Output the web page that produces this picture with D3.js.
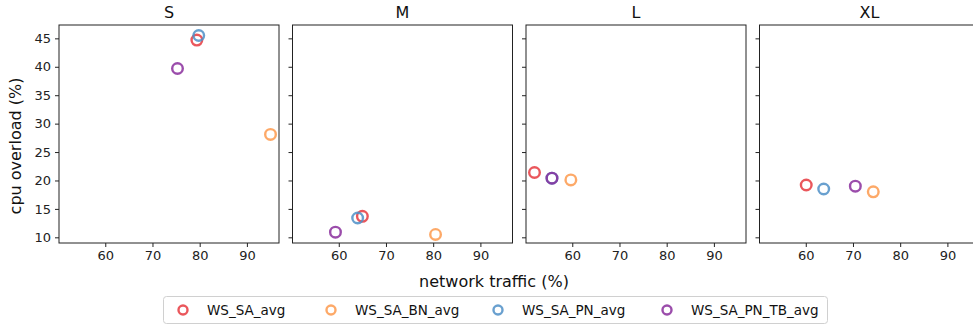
<!DOCTYPE html>
<html lang="en">
<head>
<meta charset="UTF-8">
<title>cpu overload vs network traffic</title>
<script src="https://d3js.org/d3.v7.min.js"></script>
<style>
    body { margin: 0; background: #fff; font-family: "DejaVu Sans", sans-serif; }
    .tick text { font-size: 13px; fill: #222; font-family: "DejaVu Sans", sans-serif; }
    .tick line { stroke: #222; }
    .domain { display: none; }
    .frame { fill: none; stroke: #222; stroke-width: 1; }
    .title { font-size: 16px; fill: #111; }
    .axis-label { font-size: 16px; fill: #111; }
    .legend text { font-size: 13.5px; fill: #111; }
</style>
</head>
<body>
<svg id="chart" width="973" height="330"></svg>
<script>
    // data
    const panels = ["S", "M", "L", "XL"];
    const series = ["WS_SA_avg", "WS_SA_BN_avg", "WS_SA_PN_avg", "WS_SA_PN_TB_avg"];
    const colors = ["#e6393f", "#fd9a4e", "#4f8fc7", "#8a2e9c"];
    // network traffic per panel, one array per series (order of panels)
    const trafficSA     = [79.4, 65.0, 52.0, 60.1];
    const trafficSABN   = [95.0, 80.5, 59.7, 74.3];
    const trafficSAPN   = [79.8, 64.0, 55.7, 63.8];
    const trafficSAPNTB = [75.3, 59.3, 55.7, 70.5];
    // cpu overload per panel
    const cpuSA     = [44.7, 13.7, 21.4, 19.2];
    const cpuSABN   = [28.1, 10.5, 20.1, 18.0];
    const cpuSAPN   = [45.5, 13.4, 20.4, 18.5];
    const cpuSAPNTB = [39.7, 10.9, 20.4, 19.0];
    const xTicks = [60, 70, 80, 90];
    const yTicks = [10, 15, 20, 25, 30, 35, 40, 45];

    const traffic = [trafficSA, trafficSABN, trafficSAPN, trafficSAPNTB];
    const cpu = [cpuSA, cpuSABN, cpuSAPN, cpuSAPNTB];

    const svg = d3.select("#chart");

    const panelW = 220;
    const panelGap = 13.5;
    const left0 = 59;
    const plotTop = 25;
    const plotBottom = 243;

    const x = d3.scaleLinear().domain([50.2, 96.8]).range([0, panelW]);
    const y = d3.scaleLinear().domain([9.0, 47.35]).range([plotBottom, plotTop]);

    panels.forEach((name, p) => {
        const left = left0 + p * (panelW + panelGap);
        const g = svg.append("g").attr("transform", `translate(${left},0)`);

        g.append("g")
            .attr("transform", `translate(0,${plotBottom})`)
            .call(d3.axisBottom(x).tickValues(xTicks).tickSize(4).tickPadding(4));

        g.append("g")
            .call(d3.axisLeft(y).tickValues(yTicks).tickSize(4).tickPadding(4)
                .tickFormat(p === 0 ? d3.format("d") : () => ""));

        g.append("rect")
            .attr("class", "frame")
            .attr("x", 0).attr("y", plotTop)
            .attr("width", panelW).attr("height", plotBottom - plotTop);

        g.append("text")
            .attr("class", "title")
            .attr("x", panelW / 2).attr("y", 18)
            .attr("text-anchor", "middle")
            .text(name);

        series.forEach((s, i) => {
            g.append("circle")
                .attr("cx", x(traffic[i][p]))
                .attr("cy", y(cpu[i][p]))
                .attr("r", 5.3)
                .attr("fill", "none")
                .attr("stroke", colors[i])
                .attr("stroke-opacity", 0.85)
                .attr("stroke-width", 2.4);
        });
    });

    // axis labels
    svg.append("text")
        .attr("class", "axis-label")
        .attr("x", 494).attr("y", 287)
        .attr("text-anchor", "middle")
        .text("network traffic (%)");

    svg.append("text")
        .attr("class", "axis-label")
        .attr("transform", "translate(21,146) rotate(-90)")
        .attr("text-anchor", "middle")
        .text("cpu overload (%)");

    // legend
    const legend = svg.append("g").attr("class", "legend");
    legend.append("rect")
        .attr("x", 163.5).attr("y", 296.5)
        .attr("width", 664).attr("height", 27)
        .attr("rx", 3)
        .attr("fill", "#fff")
        .attr("stroke", "#d0d0d0");

    const legendX = [183, 331, 498, 667];
    series.forEach((s, i) => {
        legend.append("circle")
            .attr("cx", legendX[i]).attr("cy", 310)
            .attr("r", 4.5)
            .attr("fill", "none")
            .attr("stroke", colors[i])
            .attr("stroke-opacity", 0.85)
            .attr("stroke-width", 2.4);
        legend.append("text")
            .attr("x", legendX[i] + 24).attr("y", 315)
            .text(s);
    });
</script>
</body>
</html>
